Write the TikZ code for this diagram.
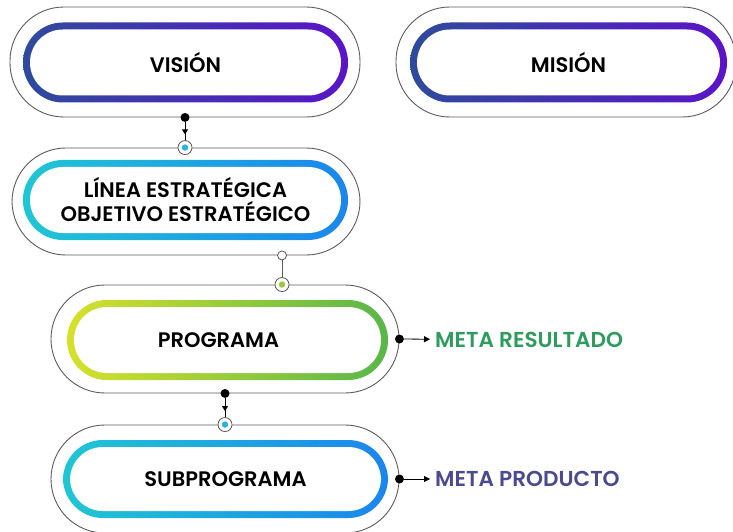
\documentclass[tikz,border=0pt]{standalone}
\usepackage{fontspec}
\setmainfont{Poppins}[BoldFont={* SemiBold}]
\usepackage{xcolor}
\usepackage{tikz}
\usetikzlibrary{arrows.meta,decorations.markings}

\definecolor{visleft}{HTML}{2E4B9B}
\definecolor{visright}{HTML}{5A14C8}
\definecolor{cyanleft}{HTML}{20C6D3}
\definecolor{blueright}{HTML}{1B86EC}
\definecolor{limeleft}{HTML}{D6E12B}
\definecolor{greenright}{HTML}{58B649}
\definecolor{resultado}{HTML}{2F9B5F}
\definecolor{producto}{HTML}{4A4B8F}
\definecolor{ringgray}{HTML}{5A5A5A}
\definecolor{cyandot}{HTML}{2BB3E0}
\definecolor{limedot}{HTML}{9DC73C}

\tikzset{
    shell/.style={draw=ringgray, line width=0.9pt, rectangle, rounded corners=53.9pt,
        minimum width=348pt, minimum height=108pt, inner sep=0pt},
    band/.style 2 args={rectangle, rounded corners=39.9pt, left color=#1, right color=#2,
        minimum width=325pt, minimum height=80pt, inner sep=0pt, align=center,
        font=\bfseries\fontsize{21}{24}\selectfont,
        path picture={\fill[white,rounded corners=32.9pt]
            ([shift={(7pt,7pt)}]path picture bounding box.south west) rectangle
            ([shift={(-7pt,-7pt)}]path picture bounding box.north east);}},
    joint/.style={circle, draw=ringgray, fill=white, line width=0.8pt, minimum size=14pt, inner sep=0pt,
        path picture={\fill[#1] (path picture bounding box.center) circle (3.2pt);}},
    hollow/.style={circle, draw=ringgray, fill=white, line width=0.8pt, minimum size=9pt, inner sep=0pt},
    blackdot/.style={circle, fill=black, minimum size=9pt, inner sep=0pt},
    meta/.style={anchor=west, inner sep=0pt, font=\bfseries\fontsize{21.6}{24}\selectfont},
    midarrow/.style={postaction={decorate}, decoration={markings,
        mark=at position 0.68 with {\arrow{Triangle[length=5pt,width=6pt]}}}}
}

\begin{document}
\begin{tikzpicture}[x=1pt,y=1pt]
    \useasboundingbox (0,0) rectangle (733,531);

    % outer shells
    \node[shell, minimum width=350pt, minimum height=110pt] (vision) at (185,469) {};
    \node[shell, minimum width=340pt, minimum height=110pt] (mision) at (566,469) {};
    \node[shell, minimum height=107pt] (linea) at (186,329.5) {};
    \node[shell] (programa) at (225,192) {};
    \node[shell] (subprograma) at (225,52) {};

    % coloured bands with the texts
    \node[band={visleft}{visright}] (vision-in) at (185.5,468.5) {VISIÓN};
    \node[band={visleft}{visright}, minimum width=317pt] (mision-in) at (568.5,468.5) {MISIÓN};
    \node[band={cyanleft}{blueright}] (linea-in) at (185.5,331) {LÍNEA ESTRATÉGICA\\OBJETIVO ESTRATÉGICO};
    \node[band={limeleft}{greenright}, minimum width=321pt] (programa-in) at (227.5,191) {PROGRAMA\hspace*{18pt}};
    \node[band={cyanleft}{blueright}, minimum height=78pt] (subprograma-in) at (225.5,52) {SUBPROGRAMA};

    % vision -> linea
    \node[blackdot] (v-out) at (vision.south) {};
    \node[joint=cyandot] (l-in) at (vision.south |- linea.north) {};
    \draw[line width=0.8pt, midarrow] (v-out) -- (l-in);

    % linea -> programa
    \node[hollow] (l-out) at (282,0 |- linea.south) {};
    \node[joint=limedot] (p-in) at (282,0 |- programa.north) {};
    \draw[ringgray, line width=0.9pt] (l-out) -- (p-in);

    % programa -> subprograma
    \node[blackdot] (p-out) at (programa.south) {};
    \node[joint=cyandot] (s-in) at (programa.south |- subprograma.north) {};
    \draw[line width=0.8pt, midarrow] (p-out) -- (s-in);

    % metas
    \node[blackdot] (p-meta) at (programa.east) {};
    \node[meta, text=resultado] (resultado) at (435,191) {META RESULTADO};
    \draw[line width=0.8pt, -{Triangle[length=6pt,width=6pt]}, shorten >=5pt] (p-meta) -- (resultado);

    \node[blackdot] (s-meta) at (subprograma.east) {};
    \node[meta, text=producto] (producto) at (435,52) {META PRODUCTO};
    \draw[line width=0.8pt, -{Triangle[length=6pt,width=6pt]}, shorten >=5pt] (s-meta) -- (producto);
\end{tikzpicture}
\end{document}
